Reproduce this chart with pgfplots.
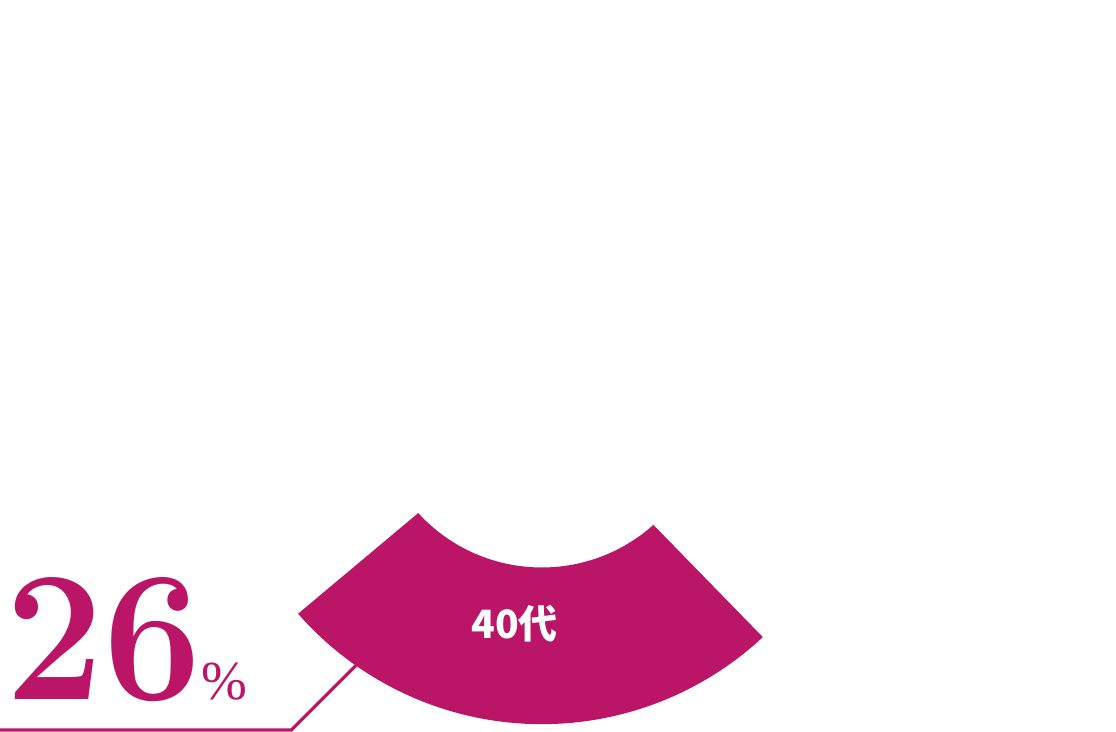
\documentclass[border=0pt]{standalone}
\usepackage{fontspec}
\usepackage{pgfplots}
\usepackage{pgfplotstable}
\pgfplotsset{compat=1.18}
\newfontfamily\cjk{Noto Sans CJK JP}
\newfontfamily\pctfont{Liberation Serif}
\definecolor{pie}{RGB}{187,21,104}

% one slice of the age pie: share in %, cumulative start in %
\pgfplotstableread{
share start
26.2 37.7
}\piedata

\begin{document}
\begin{tikzpicture}
  \pgfplotstablegetelem{0}{share}\of\piedata \let\pshare\pgfplotsretval
  \pgfplotstablegetelem{0}{start}\of\piedata \let\pstart\pgfplotsretval
  % pie starts at 12 o'clock and runs clockwise
  \pgfmathsetmacro\thR{90-3.6*\pstart}
  \pgfmathsetmacro\thL{90-3.6*(\pstart+\pshare)}
  \def\ri{167.5}\def\ro{324.2}\def\gap{7.3}
  \pgfmathsetmacro\aOL{\thL+asin(\gap/\ro)}
  \pgfmathsetmacro\aOR{\thR-asin(\gap/\ro)}
  \pgfmathsetmacro\aIL{\thL+asin(\gap/\ri)}
  \pgfmathsetmacro\aIR{\thR-asin(\gap/\ri)}
  \path[use as bounding box] (0,0) rectangle (558pt,366pt);
  \begin{axis}[
    x=0.5pt, y=0.5pt,
    xmin=-541.8, xmax=574.2, ymin=-332, ymax=400,
    hide axis, clip=false,
    at={(270.9pt,166pt)}, anchor=origin,
    ]
    \fill[pie] (axis cs:{\ro*cos(\aOL)},{\ro*sin(\aOL)})
      arc[start angle=\aOL, end angle=\aOR, radius=\ro*0.5pt]
      -- (axis cs:{\ri*cos(\aIR)},{\ri*sin(\aIR)})
      arc[start angle=\aIR, end angle=\aIL, radius=\ri*0.5pt]
      -- cycle;
    \node[anchor=base, inner sep=0, text=white,
      font=\cjk\bfseries\fontsize{19.5}{19.5}\selectfont]
      at (axis cs:-27.3,-238.3) {40代};
    % leader to the value
    \draw[pie, line width=1.65pt]
      (axis cs:{\ro*cos(-125)},{\ro*sin(-125)})
      -- (axis cs:-250.4,-330) -- (axis cs:-545,-330);
    \node[anchor=base west, inner sep=0, text=pie, xscale=0.94,
      font=\fontsize{93}{93}\bfseries\selectfont]
      at (axis cs:-536.8,-300) {26};
    \node[anchor=base west, inner sep=0, text=pie,
      font=\pctfont\fontsize{27.5}{27.5}\selectfont]
      at (axis cs:-340.3,-300) {\%};
  \end{axis}
\end{tikzpicture}
\end{document}
